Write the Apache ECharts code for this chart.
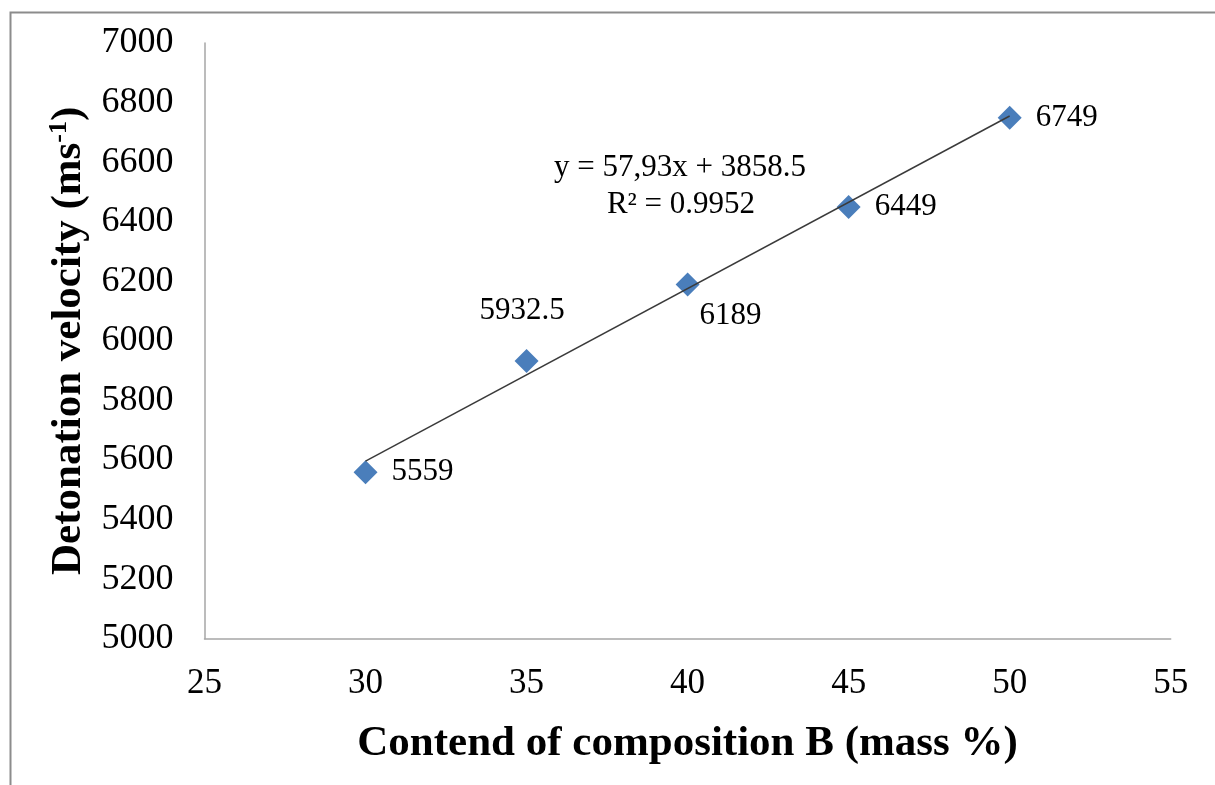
<!DOCTYPE html>
<html><head><meta charset="utf-8">
<script src="https://cdn.jsdelivr.net/npm/echarts@6/dist/echarts.min.js"></script>
<style>html,body{margin:0;padding:0;background:#fff}#c{width:1215px;height:785px}</style>
</head><body><div id="c"></div>
<script>
var xValues = [30, 35, 40, 45, 50];
var yValues = [5559, 5932.5, 6189, 6449, 6749];
var pointLabels = ['5559', '5932.5', '6189', '6449', '6749'];
var trendSlope = 57.93;
var trendIntercept = 3858.5;
var trendX = [30, 50];
var equationText = 'y = 57,93x + 3858.5';
var r2Text = 'R² = 0.9952';

var FONT = '"Liberation Serif", "Times New Roman", serif';
var labelPos = [
  {position: 'right', distance: 14},
  {position: [-35, -54], distance: 0},
  {position: [24, 28], distance: 0},
  {position: 'right', distance: 14},
  {position: 'right', distance: 14}
];
var scatterData = xValues.map(function (x, i) {
  return {value: [x, yValues[i]], label: Object.assign({show: true, formatter: pointLabels[i]}, labelPos[i])};
});
var trendData = trendX.map(function (x) { return [x, trendSlope * x + trendIntercept]; });

var chart = echarts.init(document.getElementById('c'));
chart.setOption({
  animation: false,
  backgroundColor: '#fff',
  textStyle: {fontFamily: FONT},
  grid: {left: 204.5, right: 44.3, top: 43, bottom: 146.3},
  xAxis: {
    type: 'value', min: 25, max: 55, interval: 5,
    name: 'Contend of composition B (mass %)',
    nameLocation: 'middle', nameGap: 84,
    nameTextStyle: {fontFamily: FONT, fontWeight: 'bold', fontSize: 43, color: '#000'},
    axisLine: {show: true, lineStyle: {color: '#a6a6a6', width: 1.5}},
    axisTick: {show: false},
    splitLine: {show: false},
    axisLabel: {fontFamily: FONT, fontSize: 35, color: '#000', margin: 28, formatter: function (v) { return String(v); }}
  },
  yAxis: {
    type: 'value', min: 5000, max: 7000, interval: 200,
    name: '{t|Detonation velocity (ms}{s|-1}{t|)}',
    nameLocation: 'middle', nameGap: 112, nameRotate: 90,
    nameTextStyle: {
      rich: {
        t: {fontFamily: FONT, fontWeight: 'bold', fontSize: 43, color: '#000'},
        s: {fontFamily: FONT, fontWeight: 'bold', fontSize: 26, color: '#000', verticalAlign: 'top', padding: [0, 0, 20, 0]}
      }
    },
    axisLine: {show: true, lineStyle: {color: '#a6a6a6', width: 1.5}},
    axisTick: {show: false},
    splitLine: {show: false},
    axisLabel: {fontFamily: FONT, fontSize: 36, color: '#000', margin: 31, formatter: function (v) { return String(v); }}
  },
  series: [
    {
      type: 'line', data: trendData, symbol: 'none', silent: true,
      lineStyle: {color: '#3a3a3a', width: 1.5}, z: 3
    },
    {
      type: 'scatter', data: scatterData, symbol: 'diamond', symbolSize: 24,
      itemStyle: {color: '#4a7ebb', opacity: 1},
      label: {fontFamily: FONT, fontSize: 31, color: '#000'},
      z: 2
    }
  ],
  graphic: [
    {type: 'rect', left: 8, top: 10, shape: {width: 1400, height: 1000}, style: {fill: 'none', stroke: '#8c8c8c', lineWidth: 2}, silent: true},
    {type: 'text', x: 680, y: 168, style: {text: equationText, font: '31px ' + FONT, fill: '#000', align: 'center', verticalAlign: 'middle'}},
    {type: 'text', x: 681, y: 205, style: {text: r2Text, font: '31px ' + FONT, fill: '#000', align: 'center', verticalAlign: 'middle'}}
  ]
});
</script></body></html>
